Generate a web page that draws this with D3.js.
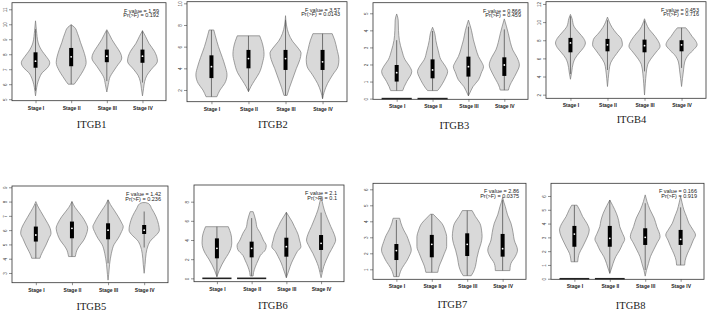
<!DOCTYPE html>
<html>
<head>
<meta charset="utf-8">
<script src="https://cdn.jsdelivr.net/npm/d3@7"></script>
<style>
  html, body { margin: 0; padding: 0; background: #fff; }
  svg { display: block; }
</style>
</head>
<body>
<svg id="chart" width="708" height="312"></svg>
<script>
// one panel per gene, stages on x, log2(TPM+1) on y
const genes = ['ITGB1', 'ITGB2', 'ITGB3', 'ITGB4', 'ITGB5', 'ITGB6', 'ITGB7', 'ITGB8']
const stages = ['Stage I', 'Stage II', 'Stage III', 'Stage IV']
const fValues = ['1.59', '3.57', '0.866', '0.453', '1.42', '2.1', '2.86', '0.166']
const prValues = ['0.192', '0.0143', '0.459', '0.716', '0.236', '0.1', '0.0375', '0.919']

const yTicks = [
  [5, 6, 7, 8, 9, 10, 11],
  [2, 4, 6, 8, 10],
  [0, 1, 2, 3, 4, 5],
  [2, 4, 6, 8, 10, 12],
  [3, 4, 5, 6, 7, 8, 9],
  [0, 2, 4, 6, 8],
  [1, 2, 3, 4, 5, 6],
  [0, 1, 2, 3, 4, 5, 6]
]
const yDomains = [
  [4.9, 11.44], [0.92, 10.15], [-0.04, 5.62], [1.6, 12.25],
  [2.32, 9.09], [-0.35, 9.74], [0.375, 6.375], [-0.04, 6.92]
]

// [q1, median, q3] per stage
const boxStats = [
  [[7.1, 7.54, 8.13], [7.2, 7.83, 8.42], [7.47, 7.87, 8.31], [7.43, 7.87, 8.31]],
  [[3.1, 4.15, 5.2], [4.0, 4.9, 5.7], [3.85, 4.9, 5.7], [3.85, 4.6, 5.7]],
  [[1.0, 1.52, 1.97], [1.19, 1.68, 2.3], [1.29, 1.87, 2.46], [1.33, 1.97, 2.42]],
  [[6.67, 7.7, 8.26], [6.78, 7.5, 8.15], [6.67, 7.4, 8.07], [6.78, 7.5, 8.0]],
  [[5.2, 5.66, 6.25], [5.43, 6.13, 6.6], [5.36, 6.0, 6.48], [5.73, 6.0, 6.36]],
  [[2.09, 3.13, 4.17], [2.19, 3.13, 3.83], [2.26, 3.3, 4.24], [2.96, 3.65, 4.52]],
  [[1.58, 2.17, 2.58], [1.75, 2.56, 3.15], [1.83, 2.56, 3.25], [1.79, 2.29, 3.21]],
  [[2.32, 3.24, 3.83], [2.32, 2.93, 3.83], [2.45, 3.0, 3.66], [2.45, 2.86, 3.54]]
]

// violin outlines: [value, relative half width], top to bottom
const violinShapes = [
  [
    [[10.23, 0], [9.6, 0.06], [8.75, 0.18], [8.2, 0.45], [7.87, 0.7], [7.43, 0.95], [7.1, 0.8], [6.77, 0.45], [6.4, 0.25], [6.0, 0.12], [5.6, 0.05], [5.22, 0]],
    [[9.97, 0], [9.8, 0.22], [9.4, 0.42], [8.8, 0.62], [8.3, 0.8], [7.8, 0.95], [7.45, 1.0], [6.9, 0.8], [6.5, 0.55], [6.2, 0.35], [6.0, 0.2]],
    [[9.64, 0], [9.3, 0.18], [9.0, 0.33], [8.5, 0.65], [8.1, 0.9], [7.75, 1.0], [7.2, 0.67], [6.8, 0.4], [6.5, 0.22], [6.0, 0.1], [5.48, 0]],
    [[9.57, 0], [9.2, 0.2], [8.7, 0.45], [8.2, 0.8], [7.54, 1.0], [7.0, 0.6], [6.6, 0.3], [6.2, 0.15], [5.7, 0.07], [5.22, 0]]
  ],
  [
    [[7.54, 0.15], [7.0, 0.25], [6.0, 0.45], [5.0, 0.7], [4.2, 0.88], [3.4, 1.0], [2.6, 0.85], [2.0, 0.55], [1.38, 0.35]],
    [[7.0, 0.72], [6.5, 0.85], [5.8, 0.97], [5.3, 1.0], [4.5, 0.9], [3.6, 0.7], [2.9, 0.4], [2.3, 0.15], [1.85, 0]],
    [[8.86, 0], [8.0, 0.06], [7.2, 0.2], [6.5, 0.45], [5.8, 0.85], [5.4, 1.0], [4.8, 0.92], [4.0, 0.7], [3.0, 0.45], [2.2, 0.25], [1.5, 0.1]],
    [[7.2, 0.62], [6.6, 0.78], [5.8, 0.92], [4.8, 1.05], [4.2, 1.0], [3.4, 0.65], [2.6, 0.32], [1.8, 0.1], [1.2, 0]]
  ],
  [
    [[4.96, 0], [4.6, 0.1], [4.0, 0.12], [3.4, 0.18], [2.8, 0.35], [2.27, 0.56], [1.9, 0.85], [1.58, 1.0], [1.0, 0.67], [0.7, 0.5], [0.47, 0.4]],
    [[4.18, 0], [3.8, 0.15], [3.4, 0.22], [2.8, 0.38], [2.27, 0.56], [1.9, 0.85], [1.58, 1.0], [1.2, 0.85], [0.9, 0.67], [0.6, 0.45], [0.47, 0.33]],
    [[4.6, 0], [4.0, 0.2], [3.44, 0.33], [2.9, 0.5], [2.46, 0.67], [2.1, 0.9], [1.87, 1.0], [1.5, 0.85], [1.1, 0.67], [0.7, 0.3], [0.5, 0.18], [0.16, 0]],
    [[4.67, 0], [4.2, 0.15], [3.8, 0.27], [3.3, 0.4], [2.85, 0.56], [2.4, 0.85], [1.97, 1.0], [1.5, 0.8], [1.1, 0.56], [0.8, 0.38], [0.5, 0.27]]
  ],
  [
    [[10.85, 0], [10.4, 0.1], [9.55, 0.22], [8.8, 0.56], [8.2, 0.85], [7.7, 0.96], [7.2, 0.85], [6.6, 0.56], [6.0, 0.3], [5.5, 0.18], [4.5, 0.08], [3.7, 0]],
    [[10.55, 0], [10.0, 0.12], [9.4, 0.3], [8.8, 0.56], [8.1, 0.9], [7.5, 0.96], [6.9, 0.75], [6.2, 0.45], [5.5, 0.2], [4.74, 0.11], [3.8, 0.05], [2.9, 0]],
    [[10.37, 0], [9.8, 0.12], [9.2, 0.3], [8.8, 0.5], [8.0, 0.85], [7.33, 1.0], [6.7, 0.75], [6.04, 0.45], [5.3, 0.2], [4.37, 0.11], [3.2, 0.05], [1.96, 0]],
    [[9.37, 0.27], [9.0, 0.45], [8.44, 0.67], [8.0, 0.88], [7.5, 1.0], [7.0, 0.8], [6.4, 0.45], [5.6, 0.2], [4.74, 0.13], [3.8, 0.06], [2.9, 0]]
  ],
  [
    [[8.0, 0], [7.7, 0.12], [7.3, 0.33], [6.9, 0.55], [6.48, 0.78], [6.1, 0.95], [5.78, 1.0], [5.4, 0.85], [4.96, 0.67], [4.5, 0.45], [4.2, 0.32], [4.03, 0.27]],
    [[8.0, 0], [7.6, 0.2], [6.95, 0.67], [6.5, 0.92], [6.13, 1.04], [5.7, 0.95], [5.3, 0.78], [4.9, 0.5], [4.6, 0.33], [4.3, 0.25], [4.15, 0.22]],
    [[8.12, 0], [7.8, 0.15], [7.4, 0.4], [6.95, 0.67], [6.5, 0.9], [6.25, 1.0], [5.8, 0.85], [5.43, 0.67], [5.0, 0.4], [4.38, 0.22], [3.6, 0.1], [2.9, 0.04], [2.5, 0]],
    [[7.93, 0.1], [7.85, 0.3], [7.5, 0.5], [6.95, 0.78], [6.4, 0.95], [6.0, 1.0], [5.6, 0.75], [5.3, 0.45], [4.9, 0.25], [4.38, 0.13], [3.6, 0.06], [2.98, 0]]
  ],
  [
    [[5.39, 0.78], [5.0, 0.88], [4.3, 1.0], [3.7, 1.02], [3.1, 0.95], [2.6, 0.8], [2.0, 0.55], [1.4, 0.33], [0.8, 0.15], [0.17, 0]],
    [[6.96, 0.1], [6.5, 0.2], [5.9, 0.3], [5.39, 0.35], [4.7, 0.6], [4.0, 0.8], [3.4, 1.0], [3.0, 0.95], [2.4, 0.6], [1.9, 0.45], [1.2, 0.25], [0.6, 0.13], [0.24, 0.1]],
    [[6.89, 0], [6.4, 0.2], [5.9, 0.4], [5.39, 0.56], [4.6, 0.8], [4.0, 0.9], [3.3, 1.0], [2.8, 0.75], [2.26, 0.56], [1.6, 0.35], [0.87, 0.18], [0.07, 0]],
    [[8.52, 0], [8.0, 0.08], [7.13, 0.22], [6.2, 0.45], [5.39, 0.67], [4.6, 0.9], [4.0, 1.0], [3.4, 0.85], [2.6, 0.56], [1.9, 0.35], [1.22, 0.18], [0.6, 0.08], [0.07, 0]]
  ],
  [
    [[4.19, 0.22], [3.9, 0.3], [3.46, 0.49], [3.1, 0.7], [2.73, 0.85], [2.2, 1.0], [1.8, 0.85], [1.48, 0.67], [1.1, 0.4], [0.85, 0.27], [0.54, 0.18]],
    [[4.44, 0.1], [4.2, 0.35], [3.88, 0.67], [3.4, 0.9], [3.04, 1.0], [2.42, 1.0], [2.0, 0.85], [1.58, 0.67], [1.2, 0.5], [0.81, 0.4]],
    [[4.67, 0.33], [4.3, 0.55], [3.88, 0.85], [3.4, 0.97], [3.04, 1.0], [2.6, 0.92], [2.2, 0.78], [1.7, 0.65], [1.17, 0.55], [0.8, 0.4], [0.6, 0.27]],
    [[5.5, 0], [5.2, 0.08], [4.92, 0.18], [4.4, 0.33], [3.88, 0.56], [3.3, 0.7], [2.83, 0.78], [2.2, 1.0], [1.8, 0.85], [1.37, 0.56], [1.1, 0.5], [0.92, 0.49]]
  ],
  [
    [[5.33, 0.18], [5.0, 0.35], [4.5, 0.56], [4.0, 0.85], [3.54, 1.0], [3.1, 0.9], [2.81, 0.78], [2.3, 0.55], [1.84, 0.33], [1.5, 0.25], [1.23, 0.22]],
    [[5.71, 0], [5.3, 0.2], [4.75, 0.44], [4.2, 0.6], [3.78, 0.67], [3.3, 0.85], [2.86, 1.0], [2.5, 0.85], [2.08, 0.67], [1.6, 0.4], [1.11, 0.22], [0.7, 0.1], [0.39, 0]],
    [[6.08, 0], [5.6, 0.12], [4.99, 0.33], [4.4, 0.6], [3.78, 0.78], [3.05, 1.0], [2.6, 0.8], [2.08, 0.56], [1.6, 0.35], [1.11, 0.22], [0.6, 0.08], [0.19, 0]],
    [[5.96, 0], [5.5, 0.1], [4.99, 0.22], [4.5, 0.4], [4.02, 0.56], [3.6, 0.8], [3.17, 1.0], [2.8, 0.85], [2.32, 0.67], [1.8, 0.45], [1.3, 0.3], [0.99, 0.27]]
  ]
]

// stages (index) that also carry a flat cluster of zero expression
const zeroGroups = [[], [], [0, 1], [], [], [0, 1], [], [0, 1]]

// plot frame [x0, y0, x1, y1] and title anchor for each panel
const layout = [
  { box: [12, 2.7, 166, 100.7], title: [91.7, 128.3] },
  { box: [187, 1.7, 347, 101.7], title: [272.8, 127.7] },
  { box: [373, 2.7, 528, 99.3], title: [454.3, 129] },
  { box: [546, 1.7, 706, 98.3], title: [631.5, 122.7] },
  { box: [12, 186, 168, 282.7], title: [91.3, 310] },
  { box: [194, 185, 344, 281.7], title: [272.8, 309.3] },
  { box: [373, 183.3, 526, 279.3], title: [452.3, 308.3] },
  { box: [551, 183.3, 704, 279.3], title: [630.7, 309] }
]

const sans = 'Liberation Sans, Arial, sans-serif'
const svg = d3.select('#chart')

genes.forEach((gene, gi) => drawPanel(gene, gi))

function drawPanel(gene, gi) {
  const [x0, y0, x1, y1] = layout[gi].box
  const x = d3.scaleLinear().domain([0.34, 4.66]).range([x0, x1])
  const y = d3.scaleLinear().domain(yDomains[gi]).range([y1, y0])
  const halfW = w => x(w * 0.42) - x(0)
  const g = svg.append('g').attr('class', 'panel')

  // y axis, rotated labels like base R
  const yAxis = g.append('g').attr('transform', `translate(${x0},0)`)
  d3.axisLeft(y)
    .tickValues(yTicks[gi])
    .tickFormat(d3.format('d'))
    .tickSize(3)
    .tickSizeOuter(0)(yAxis)
  yAxis.select('.domain').remove()
  yAxis.selectAll('line').attr('stroke', '#444').attr('stroke-width', 0.6)
  yAxis
    .selectAll('text')
    .attr('transform', 'rotate(-90)')
    .attr('x', 0)
    .attr('y', -5)
    .attr('dy', 0)
    .attr('text-anchor', 'middle')
    .attr('fill', '#444')
  yAxis.attr('font-size', 4.6).attr('font-family', sans)

  // x axis
  const xAxis = g.append('g').attr('transform', `translate(0,${y1})`)
  d3.axisBottom(x)
    .tickValues([1, 2, 3, 4])
    .tickFormat(d => stages[d - 1])
    .tickSize(2.5)
    .tickSizeOuter(0)(xAxis)
  xAxis.select('.domain').remove()
  xAxis.selectAll('line').attr('stroke', '#444').attr('stroke-width', 0.6)
  xAxis.selectAll('text').attr('y', 5.6).attr('fill', '#222').attr('font-weight', 'bold')
  xAxis.attr('font-size', 5).attr('font-family', sans)

  // violins
  violinShapes[gi].forEach((shape, si) => {
    const cx = x(si + 1)
    const area = d3
      .area()
      .curve(d3.curveMonotoneY)
      .y(d => y(d[0]))
      .x0(d => cx - halfW(d[1]))
      .x1(d => cx + halfW(d[1]))
    g.append('path')
      .datum(shape)
      .attr('d', area)
      .attr('fill', '#d9d9d9')
      .attr('stroke', '#7a7a7a')
      .attr('stroke-width', 0.7)

    // whisker: 1.5 IQR, clipped to the violin range
    const [q1, med, q3] = boxStats[gi][si]
    const iqr = q3 - q1
    const top = Math.min(shape[0][0], q3 + 1.5 * iqr)
    const bottom = Math.max(shape[shape.length - 1][0], q1 - 1.5 * iqr)
    g.append('line')
      .attr('x1', cx)
      .attr('x2', cx)
      .attr('y1', y(top))
      .attr('y2', y(bottom))
      .attr('stroke', '#555')
      .attr('stroke-width', 0.8)
    g.append('rect')
      .attr('x', cx - 2)
      .attr('width', 4)
      .attr('y', y(q3))
      .attr('height', y(q1) - y(q3))
      .attr('fill', '#000')
    g.append('circle').attr('cx', cx).attr('cy', y(med)).attr('r', 0.9).attr('fill', '#fff')
  })

  // flat zero clusters
  zeroGroups[gi].forEach(si => {
    const cx = x(si + 1)
    g.append('line')
      .attr('x1', cx - halfW(1))
      .attr('x2', cx + halfW(1))
      .attr('y1', y(0))
      .attr('y2', y(0))
      .attr('stroke', '#222')
      .attr('stroke-width', 1.6)
  })

  // frame
  g.append('rect')
    .attr('x', x0)
    .attr('y', y0)
    .attr('width', x1 - x0)
    .attr('height', y1 - y0)
    .attr('fill', 'none')
    .attr('stroke', '#333')
    .attr('stroke-width', 0.8)

  // anova annotation
  const note = g
    .append('text')
    .attr('font-family', sans)
    .attr('font-size', 5.5)
    .attr('fill', '#222')
    .attr('text-anchor', 'end')
  note.append('tspan').attr('x', x1 - 7).attr('y', y0 + 10).text(`F value = ${fValues[gi]}`)
  note.append('tspan').attr('x', x1 - 7).attr('y', y0 + 14.6).text(`Pr(>F) = ${prValues[gi]}`)

  // gene title
  const [tx, ty] = layout[gi].title
  g.append('text')
    .attr('x', tx)
    .attr('y', ty)
    .attr('text-anchor', 'middle')
    .attr('font-family', 'Liberation Serif, Times New Roman, serif')
    .attr('font-size', 10.5)
    .attr('fill', '#222')
    .text(gene)
}
</script>
</body>
</html>
